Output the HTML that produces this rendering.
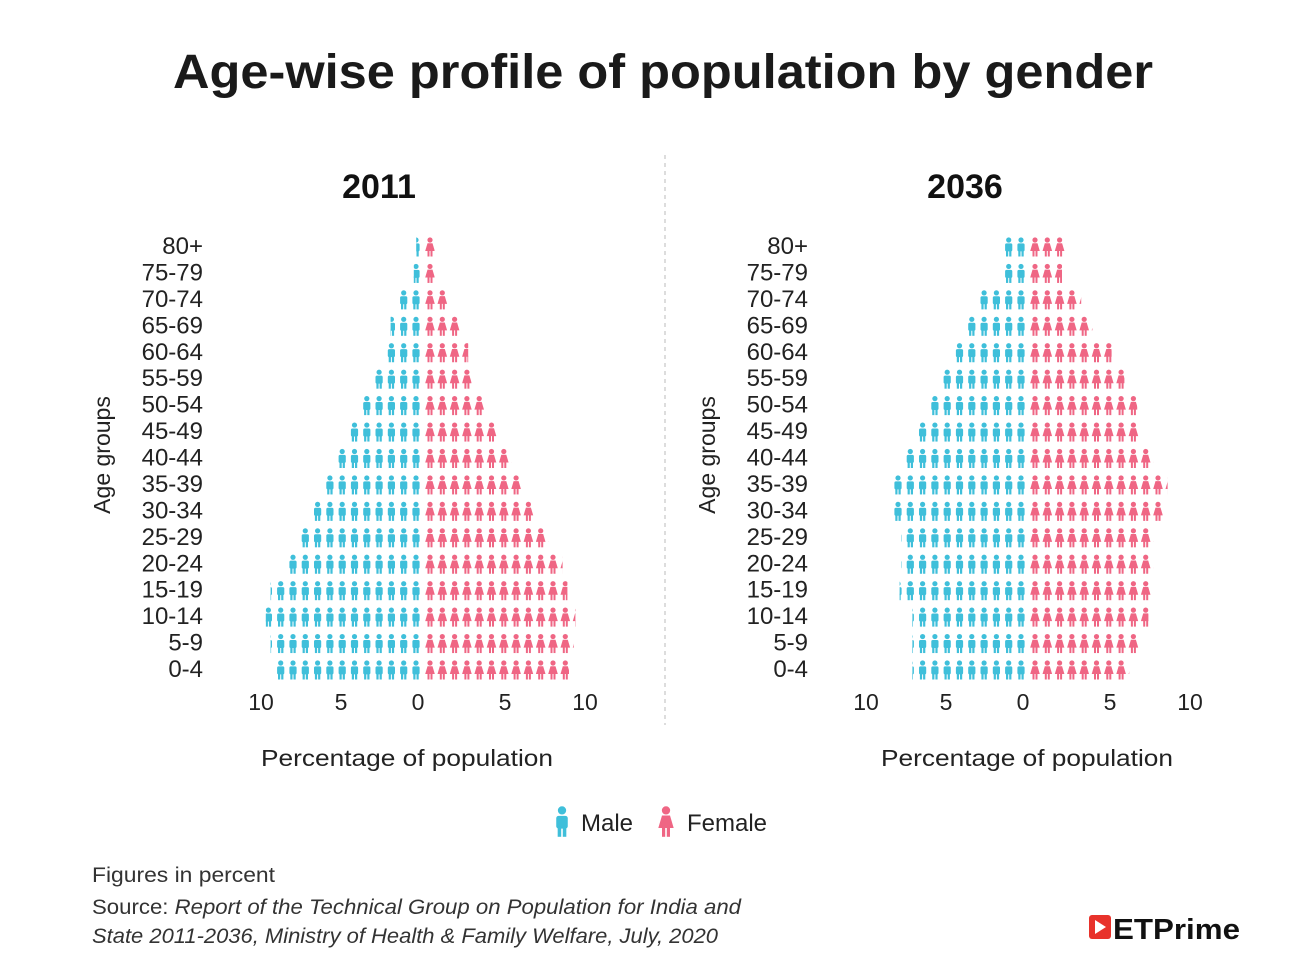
<!DOCTYPE html>
<html><head><meta charset="utf-8"><style>
body{margin:0;background:#fff;}
svg text{font-family:"Liberation Sans",sans-serif;}
</style></head><body>
<svg id="chart" width="1306" height="969" xmlns="http://www.w3.org/2000/svg">
<defs>
  <g id="male-icon"><circle cx="0" cy="-6" r="2.6" fill="#3fbfda"/><rect x="-3.6" y="-2.6" width="7.2" height="8" rx="1.5" fill="#3fbfda"/><rect x="-2.7" y="4" width="2.2" height="6.5" fill="#3fbfda"/><rect x="0.5" y="4" width="2.2" height="6.5" fill="#3fbfda"/></g>
  <g id="female-icon"><circle cx="0" cy="-6" r="2.6" fill="#ef6684"/><path d="M-2.5,-2.8 L2.5,-2.8 L4.8,5 L-4.8,5 Z" fill="#ef6684"/><rect x="-2.5" y="4" width="2" height="6.5" fill="#ef6684"/><rect x="0.5" y="4" width="2" height="6.5" fill="#ef6684"/></g>
</defs>
<text x="663" y="88" text-anchor="middle" font-size="48" font-weight="bold" fill="#1a1a1a" textLength="980" lengthAdjust="spacingAndGlyphs">Age-wise profile of population by gender</text>
<line x1="665" y1="155" x2="665" y2="725" stroke="#bbb" stroke-dasharray="4,4"/>
<g id="panels"></g>
<g>
  <use href="#male-icon" transform="translate(562,820) scale(1.6)"/>
  <text x="581" y="831" font-size="24" fill="#222">Male</text>
  <use href="#female-icon" transform="translate(666,820) scale(1.6)"/>
  <text x="687" y="831" font-size="24" fill="#222">Female</text>
</g>
<text x="92" y="882" font-size="21" fill="#333" textLength="183" lengthAdjust="spacingAndGlyphs">Figures in percent</text>
<text x="92" y="914" font-size="21" fill="#333" textLength="649" lengthAdjust="spacingAndGlyphs">Source: <tspan font-style="italic">Report of the Technical Group on Population for India and</tspan></text>
<text x="92" y="943" font-size="21" fill="#333" font-style="italic" textLength="626" lengthAdjust="spacingAndGlyphs">State 2011-2036, Ministry of Health &amp; Family Welfare, July, 2020</text>
<g>
  <rect x="1089" y="915" width="22" height="24" rx="3" fill="#e8322b"/>
  <path d="M1095,920 L1106,927 L1095,934 Z" fill="#fff"/>
  <text x="1113" y="939" font-size="29" font-weight="bold" fill="#111" textLength="127" lengthAdjust="spacingAndGlyphs">ETPrime</text>
</g>
</svg>
<script>
const ageGroups=["80+","75-79","70-74","65-69","60-64","55-59","50-54","45-49","40-44","35-39","30-34","25-29","20-24","15-19","10-14","5-9","0-4"];
const male2011=[0.3,0.45,1.4,1.9,2.1,2.9,3.7,4.6,5.4,6.1,7.0,7.5,8.5,9.4,9.7,9.4,9.1];
const female2011=[0.6,0.6,1.4,2.2,2.7,2.9,3.8,4.6,5.4,6.1,6.9,7.7,8.6,8.9,9.4,9.3,9.0];
const male2036=[1.4,1.4,2.9,3.7,4.6,5.3,6.1,6.9,7.7,8.5,8.5,7.8,7.8,7.9,7.1,7.1,7.1];
const female2036=[2.3,2.0,3.2,3.9,5.1,5.9,6.7,6.9,7.7,8.6,8.3,7.7,7.7,7.6,7.4,6.9,6.2];
const tickLabels=["10","5","0","5","10"];
const tickValues=[-10,-5,0,5,10];
const NS="http://www.w3.org/2000/svg";
const root=document.getElementById('panels');
function mk(tag,attrs,parent){const e=document.createElementNS(NS,tag);for(const k in attrs)e.setAttribute(k,attrs[k]);parent.appendChild(e);return e;}
const pxPerPct=16.0, spacing=12.3;
function y(i){return 246+i*(669-246)/(ageGroups.length-1);}
function panel(title,cx,titleX,xtX,male,female,key){
  const g=mk('g',{},root);
  
  
  const mO=cx-2, fO=cx+2;
  const xm=v=>mO-v*pxPerPct, xf=v=>fO+v*pxPerPct;
  const t=mk('text',{x:titleX,y:198,'text-anchor':'middle','font-size':34,'font-weight':'bold',fill:'#111'},g);t.textContent=title;
  
  
  ageGroups.forEach((a,i)=>{
    const yy=y(i);
    const l=mk('text',{x:cx-220,y:yy+8,'text-anchor':'end','font-size':24,fill:'#222'},g);l.textContent=a;
    
    
    const cpm='cm'+key+i;
    const cp=mk('clipPath',{id:cpm},g);mk('rect',{x:xm(male[i]),y:yy-12,width:mO-xm(male[i]),height:24},cp);
    const mg=mk('g',{'clip-path':'url(#'+cpm+')'},g);
    
    
    const nm=Math.ceil(male[i]*pxPerPct/spacing)+1;
    for(let k=0;k<nm;k++)mk('use',{href:'#male-icon',x:mO-5-k*spacing,y:yy},mg);
    const cpf='cf'+key+i;
    const cp2=mk('clipPath',{id:cpf},g);mk('rect',{x:fO,y:yy-12,width:xf(female[i])-fO,height:24},cp2);
    const fg=mk('g',{'clip-path':'url(#'+cpf+')'},g);
    
    
    const nf=Math.ceil(female[i]*pxPerPct/spacing)+1;
    for(let k=0;k<nf;k++)mk('use',{href:'#female-icon',x:fO+5+k*spacing,y:yy},fg);
  });
  tickValues.forEach((v,j)=>{
    const x=v<0?xm(-v):(v>0?xf(v):cx-5);
    const tt=mk('text',{x:x,y:710,'text-anchor':'middle','font-size':23,fill:'#222'},g);tt.textContent=tickLabels[j];
    
    
  });
  const xt=mk('text',{x:xtX,y:766,'text-anchor':'middle','font-size':23,fill:'#222',textLength:292,lengthAdjust:'spacingAndGlyphs'},g);xt.textContent='Percentage of population';
  
  
  const yt=mk('text',{x:0,y:0,'text-anchor':'middle','font-size':23,fill:'#222',transform:'translate('+(cx-313)+',455) rotate(-90)'},g);yt.textContent='Age groups';
  
  
}
panel('2011',423,379,407,male2011,female2011,'2011');
panel('2036',1028,965,1027,male2036,female2036,'2036');
</script>
</body></html>
